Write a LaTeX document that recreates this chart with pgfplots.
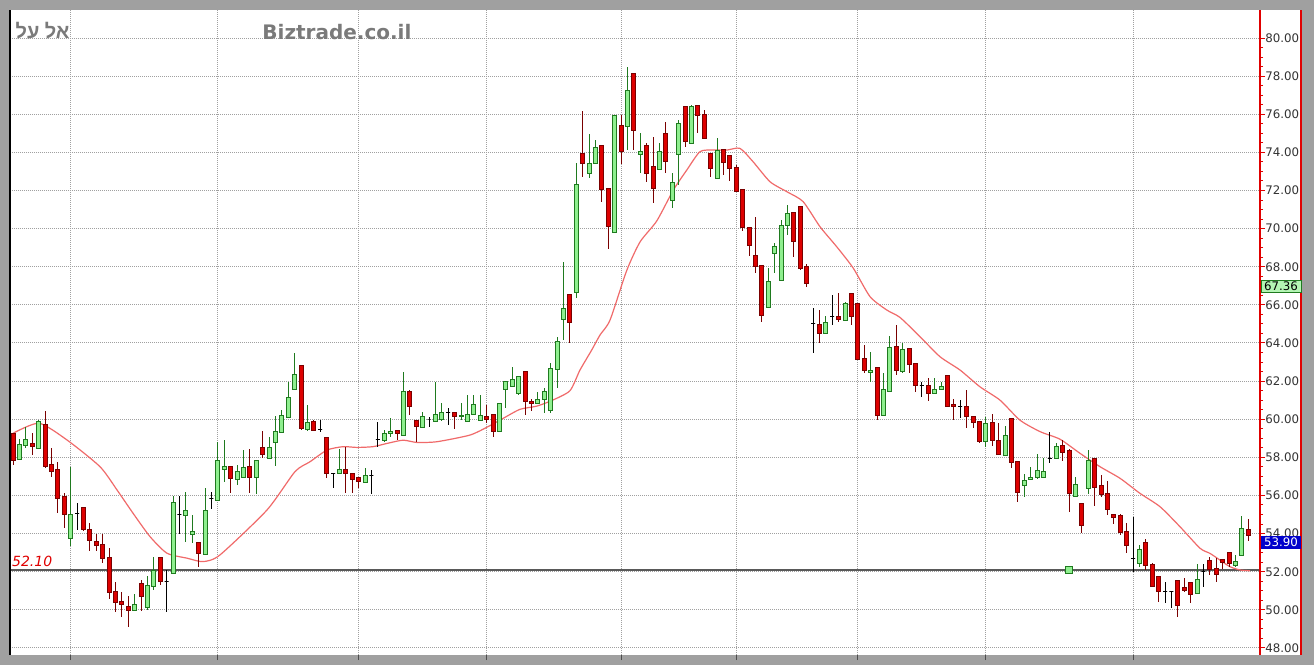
\documentclass[border=0pt]{standalone}
\usepackage{pgfplots}
\pgfplotsset{compat=1.18}
\usepackage{pgfplotstable}
\usepackage{fontspec}
\setmainfont{DejaVu Sans}
\newfontfamily\hebfont[Script=Hebrew]{Liberation Sans}
\TeXXeTstate=1

\definecolor{frame}{HTML}{A0A0A0}
\definecolor{gridc}{HTML}{A0A0A0}
\definecolor{upfill}{HTML}{8FEF8F}
\definecolor{upedge}{HTML}{1F7A1F}
\definecolor{dnfill}{HTML}{DD0000}
\definecolor{dnedge}{HTML}{7A0000}
\definecolor{maline}{HTML}{F06A6A}
\definecolor{axisred}{HTML}{E00000}
\definecolor{titlegray}{HTML}{7A7A7A}
\definecolor{tagblue}{HTML}{0000CC}
\definecolor{taggreen}{HTML}{B4F5B4}

% candle body: rectangle from close (the plotted point) to open
\pgfdeclareplotmark{candle}{%
  \pgfplotstransformcoordinatey{\copen}\let\yopen=\pgfmathresult
  \pgfplotstransformcoordinatey{\cclose}\let\yclose=\pgfmathresult
  \pgfmathsetmacro\hbody{\yopen-\yclose}%
  \pgfpathrectangle{\pgfpoint{-1pt}{0pt}}{\pgfpoint{2pt}{\hbody pt}}%
  \pgfusepathqfillstroke}

\pgfplotstableread{
i o h l c
0 59.18 59.20 57.60 57.83
1 57.90 58.95 57.86 58.69
2 58.62 59.61 58.47 58.95
3 58.70 59.26 58.13 58.58
4 58.53 59.96 58.48 59.87
5 59.61 60.45 57.43 57.51
6 57.60 58.48 56.96 57.25
7 57.30 57.78 55.07 55.85
8 55.91 56.12 54.28 54.98
9 53.81 57.51 53.35 54.98
10 55.07 55.59 54.19 55.07
11 55.33 55.33 54.11 54.19
12 54.19 54.58 53.11 53.62
13 53.58 53.98 53.11 53.35
14 53.37 53.98 52.44 52.67
15 52.67 53.23 50.57 50.92
16 50.92 51.48 49.91 50.38
17 50.42 50.96 49.61 50.30
18 50.17 50.70 49.09 49.96
19 49.96 50.84 49.96 50.30
20 51.36 51.57 49.96 50.70
21 50.17 51.75 50.00 51.27
22 51.27 52.79 51.05 52.04
23 52.67 52.67 51.31 51.48
24 51.48 52.09 49.91 51.48
25 52.06 55.98 52.01 55.63
26 54.98 55.98 53.98 54.98
27 54.98 56.20 53.58 55.19
28 53.98 54.98 53.49 54.11
29 53.49 53.50 52.27 52.97
30 53.00 56.38 52.97 55.19
31 55.85 56.20 55.28 55.85
32 55.85 58.83 55.85 57.86
33 57.37 58.91 56.72 57.51
34 57.47 57.47 56.15 56.90
35 56.86 57.60 56.55 57.25
36 56.95 58.38 56.90 57.47
37 57.51 58.42 56.15 56.95
38 57.00 57.86 56.06 57.86
39 58.51 59.38 57.95 58.16
40 57.95 59.05 57.90 58.51
41 58.82 60.17 57.54 59.38
42 59.35 60.48 59.35 60.17
43 60.13 61.93 60.13 61.15
44 61.62 63.46 61.53 62.37
45 62.67 62.67 59.43 59.52
46 59.49 60.75 59.38 59.84
47 59.84 59.96 59.40 59.40
48 59.47 59.96 59.35 59.47
49 58.96 58.96 56.90 57.16
50 57.16 57.20 56.37 57.16
51 57.16 58.44 57.10 57.37
52 57.37 58.53 56.15 57.16
53 57.16 57.16 56.15 56.85
54 56.95 56.99 56.37 56.72
55 56.72 57.42 56.72 57.07
56 57.07 57.33 56.06 57.07
57 58.96 59.87 58.56 58.96
58 58.91 59.43 58.82 59.26
59 59.26 60.05 59.08 59.38
60 59.38 59.43 58.91 59.23
61 59.26 62.46 59.26 61.44
62 61.44 61.53 60.22 60.69
63 59.92 59.92 58.82 59.61
64 59.61 60.36 59.57 60.13
65 59.96 60.13 59.57 59.96
66 59.92 61.97 59.92 60.25
67 60.01 60.83 59.92 60.36
68 60.36 60.57 59.70 60.36
69 60.36 60.36 59.49 60.13
70 60.13 60.83 59.96 60.22
71 59.92 61.27 59.92 60.25
72 60.25 61.27 60.25 60.78
73 59.92 61.27 59.92 60.17
74 60.13 60.74 59.78 60.01
75 60.22 60.22 59.05 59.35
76 59.40 60.80 59.35 60.80
77 61.57 61.97 60.57 61.97
78 61.71 62.72 61.71 62.06
79 61.39 62.27 61.27 62.23
80 62.44 62.44 60.22 60.92
81 60.95 61.04 60.45 60.83
82 60.83 61.44 60.83 61.04
83 61.04 61.62 60.31 61.44
84 60.57 62.93 60.31 62.67
85 62.67 64.33 61.62 64.07
86 65.24 68.26 64.15 65.81
87 66.46 66.46 63.98 65.06
88 66.92 73.42 66.34 72.32
89 73.91 76.19 72.72 73.42
90 72.90 74.96 72.64 73.42
91 73.46 74.65 73.46 74.25
92 74.25 74.25 71.41 72.06
93 72.02 72.02 68.91 70.10
94 70.10 75.92 70.10 75.92
95 75.35 75.96 73.39 74.04
96 75.44 78.50 74.12 77.24
97 78.01 78.01 74.12 75.14
98 73.91 75.00 72.90 74.04
99 74.30 74.47 72.46 72.90
100 73.21 74.82 71.32 72.11
101 73.16 74.51 73.16 74.04
102 74.91 75.61 72.90 73.51
103 71.53 72.90 71.06 72.41
104 73.98 75.70 72.29 75.52
105 76.31 76.31 74.30 74.56
106 74.56 76.48 74.56 76.43
107 76.43 76.43 75.03 75.91
108 75.92 76.22 74.74 74.74
109 73.91 73.91 72.72 73.16
110 72.72 74.74 72.72 74.09
111 74.12 74.12 72.81 73.46
112 73.81 73.81 72.51 73.16
113 73.16 73.33 71.94 71.97
114 71.97 71.97 69.88 70.05
115 70.02 70.02 68.56 69.14
116 68.56 70.63 67.65 68.00
117 67.92 67.92 65.12 65.42
118 65.94 67.95 65.94 67.25
119 68.70 69.23 67.65 69.05
120 67.39 70.45 67.39 70.14
121 70.19 71.24 69.67 70.77
122 70.77 70.77 68.53 69.32
123 71.01 71.01 67.83 67.92
124 67.95 68.15 66.96 67.13
125 65.00 65.82 63.46 65.00
126 64.94 65.73 64.02 64.51
127 64.51 65.42 64.51 65.07
128 65.38 66.52 64.94 65.38
129 65.38 66.64 65.12 65.24
130 65.24 66.17 65.24 66.08
131 66.52 66.52 64.94 65.38
132 65.94 65.94 63.11 63.14
133 63.14 63.89 62.44 62.56
134 62.44 63.55 61.97 62.58
135 62.58 62.58 59.95 60.22
136 60.25 62.44 60.25 61.56
137 61.56 64.35 61.56 63.75
138 63.75 64.96 62.32 62.56
139 62.54 63.98 62.44 63.66
140 63.66 63.66 62.40 62.87
141 62.87 62.87 61.44 61.79
142 61.76 61.97 61.18 61.76
143 61.76 62.14 60.97 61.35
144 61.35 62.14 61.32 61.56
145 61.56 61.97 61.53 61.74
146 62.23 62.23 60.69 60.69
147 60.78 61.04 59.95 60.65
148 60.65 61.00 60.09 60.65
149 60.65 61.53 59.55 60.13
150 60.13 60.13 59.55 59.81
151 59.81 59.81 58.76 58.82
152 58.87 60.13 58.56 59.78
153 59.78 60.25 58.59 58.87
154 58.87 59.81 58.15 58.15
155 58.17 59.64 58.17 59.17
156 59.95 59.95 57.42 57.72
157 57.72 57.72 55.67 56.14
158 56.54 57.12 55.93 56.81
159 56.84 57.51 56.81 56.95
160 56.95 58.20 56.89 57.33
161 56.95 57.94 56.95 57.24
162 57.94 59.34 57.68 57.94
163 57.98 58.75 57.94 58.58
164 58.60 58.91 57.83 58.26
165 58.26 58.42 55.15 56.08
166 55.97 56.99 55.97 56.55
167 55.55 55.55 54.05 54.45
168 56.43 58.39 56.08 57.83
169 57.86 57.86 55.45 56.43
170 56.50 57.07 55.94 56.03
171 56.08 56.76 54.98 55.27
172 54.98 54.98 54.50 54.85
173 54.89 55.03 53.93 54.05
174 54.10 54.57 52.96 53.40
175 52.70 54.89 52.00 52.70
176 52.44 53.40 52.27 53.14
177 53.49 53.70 52.09 52.35
178 52.35 52.44 51.22 51.25
179 51.71 51.71 50.43 50.95
180 50.95 51.48 50.38 50.95
181 50.95 50.95 50.08 50.95
182 51.48 51.48 49.61 50.25
183 51.18 51.65 50.95 51.04
184 51.39 51.39 50.38 50.83
185 50.87 52.41 50.87 51.60
186 52.00 52.41 51.22 52.00
187 52.58 52.75 51.83 52.13
188 52.13 52.70 51.48 51.83
189 52.65 52.65 52.13 52.47
190 53.00 53.00 52.27 52.41
191 52.35 52.88 52.27 52.53
192 52.93 54.90 52.93 54.28
193 54.20 54.75 53.60 53.90
}\candles

\pgfplotsset{
  wicks/.style={draw=none, mark=none, forget plot,
    error bars/.cd, y dir=both, y explicit, error mark=none,
    error bar style={draw=#1, line width=0.5pt}, /pgfplots/.cd},
  bodies/.style n args={2}{only marks, mark=candle, forget plot,
    mark options={fill=#1, draw=#2, line width=0.5pt},
    visualization depends on={\thisrow{o}\as\copen},
    visualization depends on={\thisrow{c}\as\cclose}},
  up/.style={x filter/.expression={\thisrow{c}-\thisrow{o}>0.001 ? x : nan}},
  down/.style={x filter/.expression={\thisrow{o}-\thisrow{c}>0.001 ? x : nan}},
  flat/.style={x filter/.expression={abs(\thisrow{c}-\thisrow{o})<0.001 ? x : nan}},
}

\begin{document}
\begin{tikzpicture}[x=1pt,y=1pt]
\useasboundingbox (-5,-5) rectangle (652,327.5);
\fill[frame] (-5,-5) rectangle (652,327.5);
\fill[white] (0,0) rectangle (646,322.5);
\begin{axis}[
  scale only axis, width=625pt, height=322.5pt,
  xmin=-0.47, xmax=194.84, ymin=47.63, ymax=81.47,
  axis line style={draw=none},
  xtick={9,32,54,74,95,113,132,152,175}, xticklabels={},
  xtick pos=bottom,
  ytick={48,50,...,80}, minor y tick num=3,
  ytick pos=right, yticklabel pos=right,
  tick align=outside, major tick length=2.5pt, minor tick length=1.5pt,
  x tick style={draw=black!70, line width=0.5pt},
  y tick style={draw=axisred, line width=0.5pt},
  yticklabel style={font=\fontsize{5.9}{6}\selectfont, text=black!80,
    anchor=west, inner sep=0pt,
    /pgf/number format/.cd, fixed, fixed zerofill, precision=2, assume math mode=true},
  grid=major,
  major grid style={draw=gridc, line width=0.5pt, dash pattern=on 0.5pt off 0.5pt},
  clip=false,
]
% 52.10 level
\addplot[black!65, line width=1pt, forget plot] coordinates {(-0.47,52.1) (194.84,52.1)};
% moving average
\addplot[smooth, tension=0.4, maline, line width=0.6pt] coordinates {
(0,59.26) (4.06,59.79) (8.44,58.91) (13.59,57.51) (16.25,56.29) (18.75,55.07)
(21.41,53.84) (24.06,52.97) (27.19,52.71) (29.69,52.53) (32.34,52.88) (39.69,55.24)
(44.06,57.25) (46.41,57.77) (49.06,58.38) (51.56,58.56) (53.75,58.52) (56.25,58.56)
(58.44,58.73) (60.94,58.90) (63.13,58.78) (66.25,58.82) (71.41,59.17) (74.22,59.61)
(76.56,60.04) (79.22,60.52) (81.88,60.69) (84.38,61.01) (87.03,61.50) (88.59,62.58)
(90.42,63.63) (91.72,64.42) (93.28,65.20) (95.89,67.80) (97.97,69.30) (100.58,70.40)
(103.17,72.02) (105.27,73.07) (107.34,74.04) (109.38,74.12) (111.52,74.12) (113.59,74.21)
(115.63,73.51) (118.28,72.46) (120.89,71.94) (123.44,71.42) (126.09,70.10) (128.70,69.05)
(131.30,67.92) (133.91,66.43) (136.52,65.73) (138.59,65.34) (141.72,64.33) (144.84,63.28)
(147.97,62.58) (151.09,61.70) (154.22,61.00) (157.34,59.95) (160.47,59.35) (163.59,58.95)
(166.72,58.21) (169.84,57.51) (172.97,56.90) (176.09,56.11) (179.22,55.41) (182.34,54.36)
(185.47,53.23) (187.03,52.96) (188.59,52.61) (190.16,52.26) (191.72,52.09) (193.28,52.05)
};
% wicks
\addplot[up, wicks=upedge] table[x=i, y=c, y error plus expr=\thisrow{h}-\thisrow{c}, y error minus expr=\thisrow{c}-\thisrow{l}] {\candles};
\addplot[down, wicks=dnedge] table[x=i, y=c, y error plus expr=\thisrow{h}-\thisrow{c}, y error minus expr=\thisrow{c}-\thisrow{l}] {\candles};
\addplot[flat, wicks=black] table[x=i, y=c, y error plus expr=\thisrow{h}-\thisrow{c}, y error minus expr=\thisrow{c}-\thisrow{l}] {\candles};
% bodies
\addplot[up, bodies={upfill}{upedge}] table[x=i, y=c] {\candles};
\addplot[down, bodies={dnfill}{dnedge}] table[x=i, y=c] {\candles};
\addplot[flat, bodies={black}{black}] table[x=i, y=c] {\candles};
% alert marker on the level line
\addplot[only marks, mark=square*, mark size=1.6pt, mark options={fill=upfill, draw=upedge, line width=0.5pt}] coordinates {(165,52.1)};
\node[anchor=base west, text=axisred, font=\fontsize{7}{8}\selectfont\itshape, inner sep=0pt] at (axis cs:-0.2,52.28) {52.10};
\end{axis}
\draw[black, line width=1pt] (0,0) -- (0,322.5);
\draw[axisred, line width=0.9pt] (625,0) -- (625,322.5);
\draw[axisred, line width=0.9pt] (645.5,0) -- (645.5,322.5);
\node[fill=taggreen, draw=upedge, line width=0.4pt, inner sep=0pt, minimum width=20pt, minimum height=6pt,
  font=\fontsize{5.9}{6}\selectfont, anchor=west] at (625.3,184.5) {67.36};
\node[fill=tagblue, text=white, inner sep=0pt, minimum width=20pt, minimum height=6.3pt,
  font=\fontsize{5.9}{6}\selectfont, anchor=west] at (625.3,56.3) {53.90};
\node[anchor=base east, text=titlegray, font=\hebfont\bfseries\fontsize{10}{12}\selectfont, inner sep=0pt] at (30,308) {\beginR אל על\endR};
\node[anchor=base west, text=titlegray, font=\bfseries\fontsize{10}{12}\selectfont, inner sep=0pt] at (126,307.5) {Biztrade.co.il};
\end{tikzpicture}
\end{document}
